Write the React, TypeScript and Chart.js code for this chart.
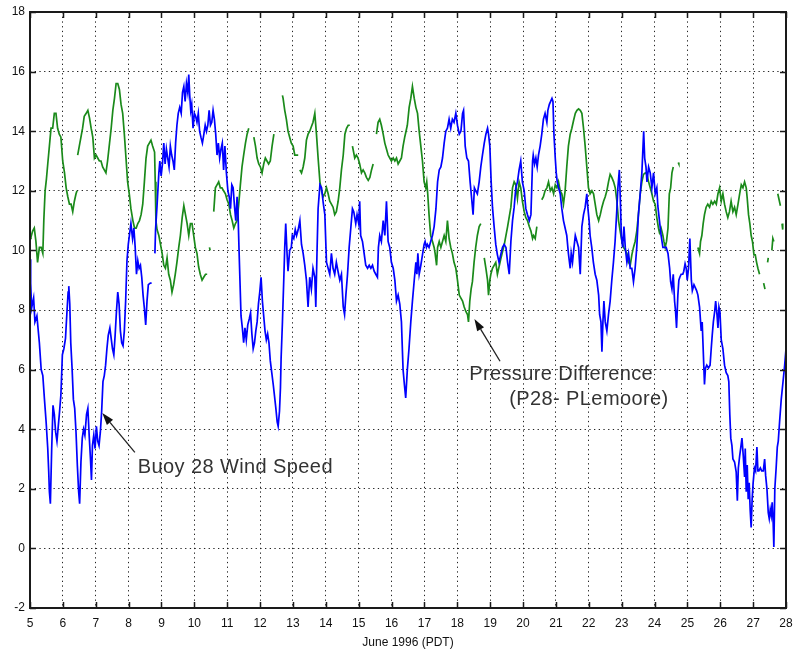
import React, { useEffect, useRef } from "react";
import { Chart, registerables } from "chart.js";

Chart.register(...registerables);

// ---- Data (June 1996 day, value) ----
const blueDays = [
  5.0, 5.02, 5.05, 5.11, 5.15, 5.21, 5.285, 5.34, 5.39, 5.44, 5.49, 5.54, 5.57, 5.59, 5.62, 5.66, 5.7, 5.74, 5.78, 5.82, 5.86, 5.9, 5.94, 5.985, 6.03, 6.08, 6.12, 6.16, 6.18, 6.21, 6.24, 6.28, 6.32, 6.36, 6.4, 6.44, 6.48, 6.51, 6.55, 6.59, 6.63, 6.67, 6.72, 6.76, 6.8, 6.84, 6.87, 6.9, 6.94, 6.98, 7.02, 7.06, 7.1, 7.14, 7.18, 7.22, 7.26, 7.3, 7.34, 7.38, 7.43, 7.47, 7.51, 7.55, 7.59, 7.63, 7.67, 7.71, 7.75, 7.79, 7.83, 7.87, 7.91, 7.95, 7.99, 8.03, 8.07, 8.12, 8.16, 8.2, 8.24, 8.28, 8.32, 8.36, 8.4, 8.44, 8.48, 8.52, 8.56, 8.6, 8.66, 8.7, 8.74,
  8.8, 8.82, 8.865, 8.92, 8.95, 8.99, 9.03, 9.07, 9.11, 9.15, 9.19, 9.23, 9.27, 9.31, 9.35, 9.39, 9.43, 9.47, 9.51, 9.555, 9.6, 9.64, 9.68, 9.72, 9.76, 9.8, 9.83, 9.86, 9.89, 9.92, 9.96, 10.0, 10.04, 10.08, 10.12, 10.16, 10.2, 10.245, 10.29, 10.33, 10.37, 10.41, 10.45, 10.49, 10.53, 10.57, 10.61, 10.65, 10.69, 10.73, 10.77, 10.81, 10.85, 10.89, 10.93, 10.975, 11.02, 11.06, 11.1, 11.14, 11.18, 11.22, 11.26, 11.3, 11.33, 11.36, 11.39, 11.42, 11.46, 11.5, 11.54, 11.58, 11.625, 11.67, 11.71, 11.75, 11.79, 11.83, 11.87, 11.91, 11.95, 11.99, 12.03, 12.07, 12.11, 12.15, 12.19, 12.23, 12.27, 12.31, 12.355, 12.4, 12.44, 12.48, 12.52, 12.55, 12.59, 12.62,
  12.64, 12.68, 12.72, 12.75, 12.78, 12.82, 12.85, 12.9, 12.95, 12.98, 13.025, 13.07, 13.11, 13.16, 13.21, 13.26, 13.31, 13.36, 13.41, 13.46, 13.51, 13.56, 13.61, 13.665, 13.695, 13.735, 13.765, 13.82, 13.87, 13.92, 13.97, 14.02, 14.07, 14.12, 14.17, 14.22, 14.27, 14.32, 14.37, 14.425, 14.475, 14.53, 14.57, 14.61, 14.66, 14.71, 14.76, 14.81, 14.85, 14.91, 14.95, 15.0, 15.03, 15.06, 15.115, 15.165, 15.215, 15.27, 15.32, 15.37, 15.42, 15.47, 15.52, 15.57, 15.6, 15.64, 15.69, 15.745, 15.795, 15.845, 15.895, 15.945, 15.995, 16.05, 16.1, 16.15, 16.2, 16.25, 16.3, 16.35, 16.39, 16.43,
  16.48, 16.53, 16.585, 16.635, 16.69, 16.74, 16.77, 16.8, 16.84, 16.89, 16.94, 16.99, 17.02, 17.06, 17.09, 17.14, 17.19, 17.245, 17.295, 17.35, 17.4, 17.45, 17.5, 17.55, 17.6, 17.65, 17.7, 17.75, 17.8, 17.85, 17.9, 17.955, 18.005, 18.06, 18.11, 18.16, 18.19, 18.24, 18.29, 18.34, 18.39, 18.44, 18.48, 18.52, 18.56, 18.61, 18.665, 18.715, 18.765, 18.82, 18.87, 18.92, 18.95, 18.99, 19.03, 19.07, 19.12, 19.17, 19.22, 19.27, 19.32, 19.375, 19.425, 19.48, 19.53, 19.58, 19.63, 19.68, 19.73, 19.78, 19.83, 19.88, 19.93, 19.98, 20.035, 20.085, 20.135, 20.19, 20.24, 20.29,
  20.31, 20.35, 20.39, 20.43, 20.47, 20.52, 20.57, 20.62, 20.67, 20.725, 20.755, 20.8, 20.84, 20.88, 20.91, 20.94, 20.98, 21.01, 21.04, 21.08, 21.13, 21.18, 21.23, 21.28, 21.33, 21.38, 21.435, 21.465, 21.505, 21.55, 21.59, 21.64, 21.69, 21.74, 21.79, 21.84, 21.89, 21.94, 21.97, 22.01, 22.04, 22.09, 22.14, 22.195, 22.245, 22.3, 22.33, 22.37, 22.4, 22.43, 22.46, 22.5, 22.55, 22.6, 22.65, 22.7, 22.75, 22.8, 22.855, 22.885, 22.93, 22.96, 22.99, 23.03, 23.07, 23.11, 23.16, 23.21, 23.26, 23.31, 23.36, 23.41, 23.46, 23.51, 23.565, 23.615, 23.67, 23.7, 23.74, 23.77, 23.82, 23.87, 23.92, 23.97, 24.02, 24.07, 24.1,
  24.15, 24.2, 24.255, 24.305, 24.355, 24.41, 24.46, 24.49, 24.53, 24.57, 24.61, 24.64, 24.67, 24.71, 24.74, 24.77, 24.81, 24.86, 24.89, 24.93, 24.965, 24.995, 25.035, 25.075, 25.12, 25.15, 25.2, 25.24, 25.28, 25.32, 25.37, 25.42, 25.45, 25.48, 25.52, 25.55, 25.59, 25.64, 25.69, 25.725, 25.755, 25.79, 25.83, 25.86, 25.9, 25.93, 25.96, 25.99, 26.03, 26.08, 26.13, 26.18, 26.23, 26.26, 26.29, 26.32, 26.355, 26.385, 26.435, 26.485, 26.52, 26.55, 26.59, 26.62, 26.66, 26.7, 26.74, 26.76, 26.79, 26.82, 26.85, 26.88, 26.91, 26.94, 26.97, 27.0, 27.04, 27.075, 27.115, 27.145, 27.175, 27.22, 27.26, 27.31, 27.35, 27.38, 27.42, 27.46, 27.49, 27.52, 27.55, 27.58, 27.61, 27.63, 27.66, 27.7, 27.735, 27.765, 27.805, 27.855, 27.91, 27.96, 28.0,
];
const blueSpeed = [
  9.7, 8.9, 8.07, 8.4, 7.6, 7.8, 6.9, 6.0, 5.8, 5.0, 4.25, 3.35, 2.56, 1.9, 1.5, 3.35, 4.8, 4.5, 3.9, 3.6, 4.1, 4.6, 5.15, 6.5, 6.7, 7.05, 7.85, 8.6, 8.8, 8.2, 6.9, 6.05, 5.0, 4.7, 3.9, 2.8, 1.9, 1.5, 2.9, 3.7, 4.0, 3.8, 4.5, 4.7, 3.8, 3.0, 2.3, 3.45, 3.8, 3.35, 4.1, 3.6, 3.45, 3.9, 4.6, 5.6, 5.8, 6.15, 6.7, 7.15, 7.4, 7.05, 6.7, 6.5, 7.15, 7.95, 8.6, 8.2, 7.3, 6.9, 6.8, 7.3, 8.3, 9.65, 10.2, 10.55, 10.9, 10.4, 10.75, 10.1, 9.2, 9.65, 9.4, 9.5, 9.1, 8.5, 8.05, 7.5, 8.3, 8.85, 8.9, 8.9, null,
  9.9, 10.7, 11.5, 12.6, 13.0, 12.5, 12.9, 13.6, 12.9, 13.4, 13.1, 12.8, 13.5, 13.2, 13.0, 12.7, 13.6, 14.2, 14.6, 14.8, 14.6, 15.3, 15.5, 15.0, 15.6, 15.3, 15.9, 15.2, 14.7, 14.9, 14.1, 14.6, 14.5, 14.3, 14.6, 14.0, 13.8, 13.6, 13.9, 14.2, 14.0, 14.2, 14.7, 14.2, 14.3, 14.7, 14.4, 13.9, 13.2, 13.6, 13.1, 13.4, 13.6, 12.7, 13.5, 12.6, 12.0, 11.8, 11.4, 12.2, 12.1, 11.5, 11.0, 11.8, 11.2, 10.0, 8.9, 7.8, 7.4, 6.9, 7.4, 7.0, 7.5, 7.7, 7.9, 7.2, 6.7, 6.9, 7.3, 7.6, 8.2, 8.6, 9.1, 8.3, 7.8, 7.3, 7.0, 7.2, 6.9, 6.3, 5.9, 5.5, 5.1, 4.7, 4.25, 4.1, 4.6, 5.4,
  6.4, 7.6, 9.0, 10.1, 10.9, 9.9, 9.3, 10.0, 10.1, 10.5, 10.4, 10.7, 10.5, 10.7, 11.0, 10.2, 9.9, 9.5, 9.0, 8.1, 9.1, 8.7, 9.4, 9.1, 8.1, 10.1, 11.4, 12.2, 12.1, 11.6, 11.2, 9.6, 9.4, 9.2, 9.9, 9.4, 9.2, 9.6, 9.3, 9.0, 9.2, 8.1, 7.85, 8.5, 9.2, 10.1, 10.75, 11.4, 11.3, 10.9, 11.2, 10.9, 11.65, 10.5, 10.3, 9.9, 9.5, 9.4, 9.5, 9.4, 9.5, 9.3, 9.2, 9.1, 10.1, 10.5, 10.3, 11.0, 10.5, 11.65, 10.3, 10.1, 9.6, 9.4, 9.0, 8.3, 8.5, 8.2, 7.6, 6.0, 5.5, 5.05,
  6.0, 6.7, 7.6, 8.3, 9.0, 9.6, 9.2, 9.9, 9.2, 9.5, 9.85, 10.2, 10.3, 10.1, 10.2, 10.1, 10.3, 10.5, 10.8, 11.4, 12.3, 12.7, 12.8, 13.1, 13.6, 14.0, 14.1, 14.4, 14.1, 14.4, 14.3, 14.6, 14.2, 13.9, 14.0, 14.6, 14.7, 13.5, 13.1, 13.0, 12.3, 11.7, 11.2, 12.1, 12.0, 11.9, 12.3, 12.8, 13.2, 13.6, 13.9, 14.1, 13.9, 13.5, 12.3, 11.45, 10.8, 10.2, 9.85, 9.6, 9.85, 10.1, 10.2, 10.1, 9.6, 9.2, 10.3, 11.0, 11.45, 12.1, 12.3, 12.7, 13.0, 12.3, 12.0, 11.4, 11.2, 11.0, 11.2, 13.0,
  13.2, 12.9, 13.1, 12.8, 13.2, 13.5, 13.9, 14.4, 14.6, 14.3, 14.7, 14.9, 15.0, 15.1, 15.0, 13.9, 13.1, 12.6, 12.3, 12.1, 11.9, 11.4, 11.0, 10.75, 10.5, 9.9, 9.4, 9.9, 9.6, 10.1, 10.5, 10.3, 10.1, 9.2, 10.8, 11.2, 11.45, 11.9, 11.45, 11.0, 10.5, 10.1, 9.6, 9.2, 9.0, 8.5, 7.85, 7.6, 6.6, 7.6, 8.3, 7.6, 7.3, 7.85, 8.3, 9.0, 9.6, 10.3, 11.4, 12.1, 12.7, 11.7, 10.5, 10.1, 10.8, 10.1, 9.6, 9.9, 9.4, 9.4, 8.95, 9.4, 10.1, 11.2, 11.9, 12.6, 14.0, 13.1, 12.8, 12.3, 12.8, 12.6, 12.1, 12.6, 11.9, 12.1, 11.5,
  11.0, 10.5, 10.1, 10.1, 10.1, 9.9, 9.4, 8.95, 8.7, 9.2, 8.3, 7.95, 7.4, 8.5, 9.0, 9.1, 9.2, 9.2, 9.3, 9.55, 9.4, 9.0, 9.4, 10.4, 9.0, 8.65, 8.85, 8.75, 8.65, 8.5, 8.1, 7.3, 7.6, 6.7, 5.5, 6.05, 6.15, 6.05, 6.15, 6.7, 7.15, 7.6, 7.95, 8.3, 7.85, 7.4, 8.1, 7.95, 7.0, 6.7, 6.15, 5.9, 5.8, 5.6, 4.5, 3.7, 3.45, 3.0, 2.9, 2.56, 1.6, 2.7, 3.1, 3.35, 3.7, 3.1, 2.4, 3.35, 1.9, 2.8, 1.65, 2.2, 1.3, 0.7, 1.65, 2.2, 2.7, 2.6, 3.4, 2.6, 2.6, 2.7, 2.6, 2.6, 3.0, 2.45, 2.0, 1.2, 1.0, 1.3, 1.1, 1.55, 0.85, 0.05, 2.0, 2.7, 3.4, 3.6, 4.25, 5.0, 5.6, 6.15, 6.7,
];

const greenDays = [
  5.0, 5.03, 5.08, 5.13, 5.18, 5.23, 5.285, 5.34, 5.39, 5.42, 5.46, 5.5, 5.54, 5.59, 5.64, 5.69, 5.74, 5.79, 5.84, 5.89, 5.94, 5.995, 6.05, 6.1, 6.15, 6.2, 6.25, 6.3, 6.35, 6.4, 6.43, 6.44,
  6.45, 6.5, 6.55, 6.6, 6.65, 6.71, 6.76, 6.81, 6.86, 6.91, 6.96, 7.01, 7.06, 7.11, 7.16, 7.21, 7.26, 7.31, 7.36, 7.42, 7.47, 7.52, 7.57, 7.62, 7.67, 7.72, 7.77, 7.82, 7.87, 7.92, 7.97, 8.02, 8.07, 8.13, 8.18, 8.23, 8.28, 8.33, 8.38, 8.43, 8.48, 8.53, 8.58, 8.63, 8.68, 8.73, 8.79, 8.81, 8.83, 8.865, 8.92, 8.97, 9.02, 9.07, 9.12, 9.17, 9.22, 9.27, 9.32, 9.37, 9.42, 9.47, 9.525, 9.575, 9.63, 9.68, 9.73, 9.78, 9.83, 9.88, 9.93, 9.98, 10.03, 10.08, 10.13, 10.18, 10.235, 10.285, 10.34, 10.39, 10.42, 10.46, 10.48, 10.52,
  10.59, 10.64, 10.69, 10.74, 10.79, 10.84, 10.89, 10.945, 10.995, 11.05, 11.1, 11.15, 11.2, 11.25, 11.3, 11.35, 11.4, 11.45, 11.5, 11.555, 11.605, 11.655, 11.7,
  11.81, 11.86, 11.91, 11.96, 12.01, 12.06, 12.11, 12.16, 12.21, 12.26, 12.31, 12.365, 12.42, 12.5,
  12.68, 12.7, 12.75, 12.8, 12.85, 12.9, 12.95, 13.005, 13.055, 13.16, 13.18,
  13.21, 13.26, 13.31, 13.36, 13.41, 13.46, 13.51, 13.61, 13.665, 13.715, 13.765, 13.82, 13.87, 13.92, 13.97, 14.02, 14.07, 14.12, 14.17, 14.22, 14.27, 14.32, 14.375, 14.425, 14.475, 14.53, 14.58, 14.63, 14.68, 14.73, 14.77,
  14.81, 14.88, 14.93, 14.98, 15.03, 15.085, 15.135, 15.185, 15.235, 15.29, 15.34, 15.39, 15.44, 15.49,
  15.54, 15.59, 15.64, 15.69, 15.745, 15.795, 15.845, 15.895, 15.945, 15.995, 16.05, 16.1, 16.15, 16.2, 16.25, 16.3, 16.35, 16.4, 16.44, 16.48, 16.535, 16.585, 16.635, 16.69, 16.74, 16.79, 16.84, 16.89, 16.94, 16.99, 17.04, 17.07, 17.1, 17.14, 17.19, 17.245, 17.295, 17.325, 17.37, 17.4, 17.45, 17.5, 17.55, 17.6, 17.65, 17.7, 17.75, 17.8, 17.85, 17.9, 17.955, 18.005, 18.06, 18.11, 18.16, 18.21, 18.26, 18.31, 18.34, 18.38, 18.42, 18.46, 18.51, 18.56, 18.61, 18.665, 18.715, 18.77,
  18.82, 18.87, 18.92, 18.95, 18.99, 19.02, 19.07, 19.12, 19.17, 19.22, 19.32, 19.43, 19.53, 19.63, 19.68, 19.73, 19.78, 19.83, 19.88, 19.93, 19.98, 20.035, 20.085, 20.135, 20.19, 20.24, 20.29, 20.32, 20.37, 20.42, 20.48,
  20.57, 20.62, 20.67, 20.725, 20.775, 20.83, 20.88, 20.93, 20.98, 21.03, 21.08, 21.13, 21.18, 21.23, 21.28, 21.33, 21.38, 21.435, 21.485, 21.535, 21.59, 21.64, 21.69, 21.74, 21.79, 21.84, 21.89, 21.94, 21.99, 22.04, 22.095, 22.145, 22.195, 22.245, 22.3, 22.35, 22.4, 22.45, 22.5, 22.55, 22.6, 22.65, 22.7, 22.755, 22.805, 22.855, 22.905, 22.955, 23.01, 23.06, 23.11, 23.16, 23.21, 23.26, 23.31, 23.36, 23.41, 23.46, 23.51, 23.565, 23.615, 23.665, 23.72, 23.77, 23.82, 23.87, 23.92, 23.97, 24.02, 24.07, 24.12, 24.15, 24.2, 24.255, 24.285, 24.325, 24.365, 24.41, 24.45, 24.49, 24.53, 24.57, 24.6, 24.72, 24.74, 24.77,
  25.32, 25.37, 25.4, 25.44, 25.48, 25.52, 25.57, 25.62, 25.675, 25.725, 25.775, 25.83, 25.88, 25.93, 25.98, 26.03, 26.08, 26.13, 26.18, 26.23, 26.28, 26.33, 26.385, 26.435, 26.485, 26.54, 26.59, 26.64, 26.69, 26.74, 26.79, 26.82, 26.86, 26.9, 26.94, 26.98, 27.025, 27.065, 27.105, 27.145, 27.195, 27.24, 27.32, 27.36, 27.39, 27.44, 27.46, 27.5, 27.57, 27.6, 27.63, 27.67, 27.75, 27.79, 27.83, 27.86, 27.88, 27.9,
];
const greenDiff = [
  10.4, 10.45, 10.65, 10.75, 10.3, 9.6, 10.1, 10.1, 9.9, 11.0, 12.0, 12.4, 12.9, 13.5, 14.1, 14.1, 14.6, 14.6, 14.1, 13.9, 13.8, 13.0, 12.6, 12.1, 11.8, 11.55, 11.55, 11.3, 11.65, 11.9, 12.0, null,
  13.2, 13.5, 13.8, 14.1, 14.5, 14.6, 14.7, 14.45, 14.1, 13.8, 13.1, 13.2, 13.1, 13.0, 13.0, 12.8, 12.7, 12.6, 13.0, 13.6, 14.1, 14.7, 15.1, 15.6, 15.6, 15.4, 14.9, 14.6, 13.9, 13.1, 12.3, 11.9, 11.4, 11.0, 10.75, 10.75, 10.9, 11.0, 11.2, 11.55, 12.3, 13.1, 13.5, 13.6, 13.7, 13.5, 13.3, 12.3, 11.0, 10.7, 10.5, 10.2, 9.9, 9.5, 9.4, 9.75, 9.2, 9.0, 8.6, 8.85, 9.2, 9.6, 10.1, 10.5, 11.1, 11.5, 11.2, 10.9, 10.5, 10.9, 10.9, 10.5, 10.1, 9.9, 9.45, 9.2, 9.0, 9.1, 9.2, 9.2, null, 10.1, 10.0, null,
  11.3, 12.1, 12.2, 12.3, 12.1, 12.1, 12.0, 11.9, 11.7, 11.55, 11.2, 11.0, 10.75, 10.9, 11.0, 11.55, 12.2, 12.8, 13.2, 13.6, 13.9, 14.1, null,
  13.8, 13.5, 13.1, 12.9, 12.8, 12.6, 12.9, 13.1, 13.0, 12.9, 13.0, 13.5, 13.9, null,
  15.2, 15.1, 14.7, 14.4, 14.0, 13.8, 13.6, 13.5, 13.2, 13.2, null,
  12.7, 12.6, 12.8, 13.1, 13.7, 13.9, 14.0, 14.3, 14.6, 13.9, 13.1, 12.3, 12.0, 11.8, 11.9, 12.1, 11.9, 11.65, 11.55, 11.45, 11.2, 11.3, 11.65, 12.1, 12.7, 13.2, 13.9, 14.1, 14.2, 14.2, null,
  13.5, 13.1, 13.2, 13.1, 12.9, 12.6, 12.7, 12.6, 12.45, 12.35, 12.45, 12.7, 12.9, null,
  13.9, 14.3, 14.4, 14.2, 13.9, 13.6, 13.4, 13.2, 13.1, 13.0, 13.1, 13.0, 13.1, 12.9, 13.0, 13.1, 13.5, 13.8, 14.0, 14.2, 14.8, 15.1, 15.5, 15.1, 14.8, 14.6, 14.0, 13.5, 13.0, 12.3, 12.1, 12.3, 11.9, 11.2, 10.5, 10.3, 10.1, 9.9, 9.5, 10.1, 10.3, 10.1, 10.3, 10.5, 10.3, 11.0, 10.4, 10.1, 9.9, 9.6, 9.4, 9.0, 8.5, 8.4, 8.3, 8.1, 7.95, 7.85, 7.6, 8.3, 8.7, 8.95, 9.6, 10.1, 10.5, 10.8, 10.9, null,
  9.75, 9.4, 9.0, 8.5, 9.0, 9.2, 9.4, 9.5, 9.6, 9.2, 9.7, 10.2, 10.8, 11.45, 12.1, 12.3, 12.2, 11.75, 12.3, 12.1, 11.65, 11.3, 11.1, 11.0, 10.8, 10.65, 10.4, 10.5, 10.4, 10.8, null,
  11.7, 11.8, 12.0, 12.1, 12.3, 12.0, 12.1, 11.9, 12.2, 12.1, 12.3, 12.0, 11.9, 11.55, 12.0, 12.8, 13.5, 13.9, 14.1, 14.35, 14.6, 14.7, 14.75, 14.7, 14.6, 14.1, 13.5, 12.8, 12.1, 11.9, 12.0, 11.9, 11.55, 11.2, 11.0, 11.2, 11.45, 11.65, 11.8, 12.0, 12.3, 12.55, 12.45, 12.3, 12.1, 11.65, 11.0, 10.65, 10.3, 10.1, 10.0, 9.9, 9.6, 9.5, 9.85, 10.1, 10.3, 10.65, 11.2, 11.9, 12.3, 12.55, 12.6, 12.55, 12.3, 12.1, 11.9, 11.65, 11.55, 11.1, 10.75, 10.6, 10.75, 10.5, 10.3, 10.1, 10.3, 10.75, 11.9, 12.1, 12.6, 12.8, null, 12.95, 12.9, null,
  10.1, 9.9, 10.3, 10.5, 10.9, 11.2, 11.45, 11.55, 11.45, 11.65, 11.55, 11.65, 11.55, 11.9, 12.1, 11.65, 11.9, 11.55, 11.3, 11.1, 11.3, 11.65, 11.3, 11.45, 11.2, 11.55, 11.9, 12.2, 12.1, 12.3, 12.1, 11.75, 11.2, 10.9, 10.5, 10.3, 9.85, 9.85, 9.6, 9.4, 9.2, null, 8.9, 8.7, null, 9.6, 9.75, null, 10.0, 10.4, 10.3, null, 11.9, 11.7, 11.5, null, 10.9, 10.7,
];

const xMin = 5;
const xMax = 28;
const yMin = -2;
const yMax = 18;

const xTitle = "June 1996 (PDT)";
const notes = [
  { text: "Buoy 28 Wind Speed", day: 8.28, value: 2.52 },
  { text: "Pressure Difference", day: 18.36, value: 5.65 },
  { text: "(P28- PLemoore)", day: 19.58, value: 4.82 },
];
const arrows = [
  { fromDay: 8.19, fromValue: 3.22, toDay: 7.2, toValue: 4.54 },
  { fromDay: 19.3, fromValue: 6.28, toDay: 18.52, toValue: 7.7 },
];

const FONT = "'Liberation Sans', Arial, Helvetica, sans-serif";

const framePlugin = {
  id: "matlabFrame",
  afterDatasetsDraw(chart: any) {
    const { ctx, chartArea } = chart;
    const xs = chart.scales.x;
    const ys = chart.scales.y;
    const { left, right, top, bottom } = chartArea;
    ctx.save();
    ctx.strokeStyle = "#1a1a1a";
    ctx.lineWidth = 1.5;
    const tl = 6;
    ctx.beginPath();
    xs.ticks.forEach((t: any) => {
      const px = Math.round(xs.getPixelForValue(t.value)) + 0.5;
      ctx.moveTo(px, bottom);
      ctx.lineTo(px, bottom - tl);
      ctx.moveTo(px, top);
      ctx.lineTo(px, top + tl);
    });
    ys.ticks.forEach((t: any) => {
      const py = Math.round(ys.getPixelForValue(t.value)) + 0.5;
      ctx.moveTo(left, py);
      ctx.lineTo(left + tl, py);
      ctx.moveTo(right, py);
      ctx.lineTo(right - tl, py);
    });
    ctx.stroke();
    ctx.lineWidth = 2;
    ctx.strokeRect(left, top, right - left, bottom - top);
    ctx.restore();
  },
  afterDraw(chart: any) {
    const { ctx } = chart;
    const xs = chart.scales.x;
    const ys = chart.scales.y;
    ctx.save();
    ctx.fillStyle = "#333";
    ctx.font = `20px ${FONT}`;
    try {
      (ctx as any).letterSpacing = "0.4px";
    } catch (e) {}
    ctx.textAlign = "left";
    ctx.textBaseline = "alphabetic";
    notes.forEach((n) => {
      ctx.fillText(n.text, xs.getPixelForValue(n.day), ys.getPixelForValue(n.value));
    });
    ctx.strokeStyle = "#222";
    ctx.fillStyle = "#111";
    ctx.lineWidth = 1.3;
    arrows.forEach((a) => {
      const x1 = xs.getPixelForValue(a.fromDay);
      const y1 = ys.getPixelForValue(a.fromValue);
      const x2 = xs.getPixelForValue(a.toDay);
      const y2 = ys.getPixelForValue(a.toValue);
      const ang = Math.atan2(y2 - y1, x2 - x1);
      const hl = 12;
      const hw = 4;
      const bx = x2 - hl * Math.cos(ang);
      const by = y2 - hl * Math.sin(ang);
      ctx.beginPath();
      ctx.moveTo(x1, y1);
      ctx.lineTo(bx, by);
      ctx.stroke();
      ctx.beginPath();
      ctx.moveTo(x2, y2);
      ctx.lineTo(bx + hw * Math.sin(ang), by - hw * Math.cos(ang));
      ctx.lineTo(bx - hw * Math.sin(ang), by + hw * Math.cos(ang));
      ctx.closePath();
      ctx.fill();
    });
    ctx.restore();
  },
};

function toPoints(days: number[], vals: (number | null)[]) {
  return days.map((d, i) => ({ x: d, y: vals[i] }));
}

export default function App() {
  const ref = useRef<HTMLCanvasElement | null>(null);
  useEffect(() => {
    if (!ref.current) return;
    const chart = new Chart(ref.current, {
      type: "line",
      data: {
        datasets: [
          {
            label: "Buoy 28 Wind Speed",
            data: toPoints(blueDays, blueSpeed) as any,
            borderColor: "#0000ff",
            borderWidth: 1.7,
            pointRadius: 0,
            tension: 0,
            spanGaps: false,
          },
          {
            label: "Pressure Difference (P28- PLemoore)",
            data: toPoints(greenDays, greenDiff) as any,
            borderColor: "#1a8a1a",
            borderWidth: 1.7,
            pointRadius: 0,
            tension: 0,
            spanGaps: false,
          },
        ],
      },
      options: {
        animation: false,
        responsive: false,
        events: [],
        layout: { padding: { left: 0, right: 0, top: 12, bottom: 0 } },
        plugins: { legend: { display: false }, tooltip: { enabled: false } },
        scales: {
          x: {
            type: "linear",
            min: xMin,
            max: xMax,
            ticks: {
              stepSize: 1,
              autoSkip: false,
              maxRotation: 0,
              color: "#111",
              font: { family: FONT, size: 12 },
              padding: 8,
            },
            grid: { color: "#222", lineWidth: 1, drawTicks: false },
            border: { display: false, dash: [1.3, 3.4] },
            title: {
              display: true,
              text: xTitle,
              color: "#111",
              font: { family: FONT, size: 12 },
              padding: { top: 0, bottom: 2 },
            },
            afterFit: (s: any) => {
              s.height = 44;
              s.paddingLeft = 0;
              s.paddingRight = 7;
            },
          },
          y: {
            min: yMin,
            max: yMax,
            ticks: {
              stepSize: 2,
              color: "#111",
              font: { family: FONT, size: 12 },
              padding: 5,
            },
            grid: { color: "#222", lineWidth: 1, drawTicks: false },
            border: { display: false, dash: [1.3, 3.4] },
            afterFit: (s: any) => {
              s.width = 30;
              s.paddingTop = 12;
              s.paddingBottom = 0;
            },
          },
        },
      },
      plugins: [framePlugin],
    });
    return () => chart.destroy();
  }, []);
  return (
    <div style={{ position: "absolute", left: 0, top: 0, width: 793, height: 652, background: "#fff" }}>
      <canvas ref={ref} width={793} height={652} style={{ display: "block" }} />
    </div>
  );
}
